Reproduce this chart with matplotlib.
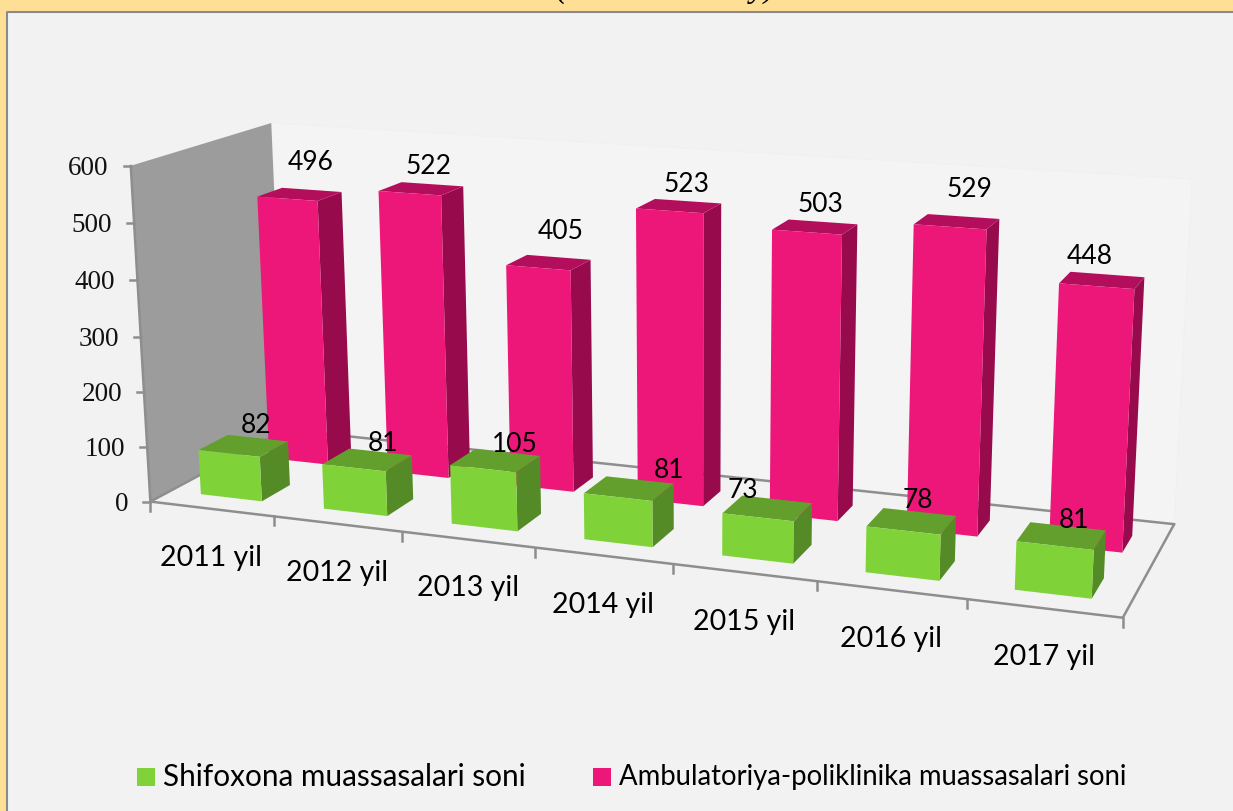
import numpy as np
import matplotlib
matplotlib.use("Agg")
import matplotlib.pyplot as plt
from matplotlib.patches import Polygon, Rectangle

years = ["2011 yil", "2012 yil", "2013 yil", "2014 yil", "2015 yil", "2016 yil", "2017 yil"]
hospitals = [82, 81, 105, 81, 73, 78, 81]
clinics = [496, 522, 405, 523, 503, 529, 448]
y_ticks = [0, 100, 200, 300, 400, 500, 600]
legend_names = ["Shifoxona muassasalari soni", "Ambulatoriya-poliklinika muassasalari soni"]

BG = "#F2F2F2"
GOLD = "#FFDF96"
GRID = "#8E8E8E"
GREEN = ("#7FD338", "#548B26", "#639F2C")
PINK = ("#ED1679", "#970B4D", "#B30E5C")

# the labels in the original were dragged around by hand, so each has a nudge in pixels
clinic_nudge = [(-1, -4.5), (-3.5, 5.5), (2, -2.5), (-1, 6.5), (-2, 5.5), (6, -4), (-18, 4.5)]
hospital_nudge = [(-4, 6), (0, 10), (5, 11), (26, 9), (-37, 10), (-5, 7), (3, 13)]

# corners of the chart box: (category, depth, value) -> pixel on the picture
box = [
    ((0, 0, 0), (150, 503)),
    ((7, 0, 0), (1123, 618)),
    ((7, 1, 0), (1174, 526)),
    ((0, 1, 0), (285, 430)),
    ((0, 0, 600), (131, 167)),
    ((0, 1, 600), (271, 124)),
    ((7, 1, 600), (1192, 180)),
]


def fit_camera(pairs):
    rows = []
    rhs = []
    for (x, d, v), (px, py) in pairs:
        rows.append([x, d, v, 1, 0, 0, 0, 0, -px * x, -px * d, -px * v])
        rhs.append(px)
        rows.append([0, 0, 0, 0, x, d, v, 1, -py * x, -py * d, -py * v])
        rhs.append(py)
    sol = np.linalg.lstsq(np.array(rows, float), np.array(rhs, float), rcond=None)[0]
    return np.append(sol, 1).reshape(3, 4)


cam = fit_camera(box)


def project(x, d, v):
    p = cam @ np.array([x, d, v, 1.0])
    return p[0] / p[2], p[1] / p[2]


def draw_bar(ax, center, value, d0, d1, colors, width=0.5):
    x0 = center - width / 2
    x1 = center + width / 2
    front = [project(x0, d0, 0), project(x1, d0, 0), project(x1, d0, value), project(x0, d0, value)]
    side = [project(x1, d0, 0), project(x1, d1, 0), project(x1, d1, value), project(x1, d0, value)]
    top = [project(x0, d0, value), project(x1, d0, value), project(x1, d1, value), project(x0, d1, value)]
    ax.add_patch(Polygon(side, closed=True, fc=colors[1], ec="none", zorder=3))
    ax.add_patch(Polygon(top, closed=True, fc=colors[2], ec="none", zorder=3))
    ax.add_patch(Polygon(front, closed=True, fc=colors[0], ec="none", zorder=3))


fig = plt.figure(figsize=(12.33, 8.12), dpi=100, facecolor=BG)
ax = fig.add_axes([0, 0, 1, 1])
ax.set_xlim(0, 1233)
ax.set_ylim(812, 0)
ax.axis("off")

# slide frame and what is left of the cut off title
ax.add_patch(Rectangle((0, 0), 1233, 12, fc=GOLD, ec="none"))
ax.add_patch(Rectangle((0, 0), 6, 812, fc=GOLD, ec="none"))
ax.plot([6.5, 6.5, 1233], [812, 12.5, 12.5], color="#8A8A8A", lw=1.5)
ax.text(556, -3, "(", ha="left", va="baseline", fontsize=24, style="italic", family="Liberation Serif")
ax.text(776, -3, "y)", ha="right", va="baseline", fontsize=24, style="italic", family="Liberation Serif")

# walls and floor
back = [project(0, 1, 0), project(7, 1, 0), project(7, 1, 600), project(0, 1, 600)]
ax.add_patch(Polygon(back, closed=True, fc="#F4F4F4", ec="#EDEDED", lw=0.8, ls=":"))
left = [project(0, 0, 0), project(0, 1, 0), project(0, 1, 600), project(0, 0, 600)]
ax.add_patch(Polygon(left, closed=True, fc="#9C9C9C", ec="none"))
floor = [project(0, 0, 0), project(7, 0, 0), project(7, 1, 0), project(0, 1, 0)]
ax.add_patch(Polygon(floor, closed=True, fc=BG, ec="none"))

# axis lines
for a, b in [((0, 0, 0), (7, 0, 0)), ((7, 0, 0), (7, 1, 0)), ((7, 1, 0), (0, 1, 0)),
             ((0, 1, 0), (0, 0, 0)), ((0, 0, 0), (0, 0, 600))]:
    pa, pb = project(*a), project(*b)
    ax.plot([pa[0], pb[0]], [pa[1], pb[1]], color=GRID, lw=1.8, solid_capstyle="round", zorder=2)

for v in y_ticks:
    px, py = project(0, 0, v)
    ax.plot([px - 7, px], [py, py], color=GRID, lw=1.8, zorder=2)
    ax.text(px - 22, py + 1.5, str(v), ha="right", va="center", fontsize=19.5,
            family="Liberation Serif", color="#111111")

for i in range(8):
    px, py = project(i, 0, 0)
    ax.plot([px, px], [py, py + 9], color=GRID, lw=1.8, zorder=2)

for i, name in enumerate(years):
    px, py = project(i + 0.5, 0, 0)
    ax.text(px, py + 48, name, ha="center", va="center", fontsize=20.5, family="Lato", color="black")

# bars, back row first
for i, v in enumerate(clinics):
    draw_bar(ax, i + 0.52, v, 0.63, 0.82, PINK)
for i, v in enumerate(hospitals):
    draw_bar(ax, i + 0.5, v, 0.14, 0.35, GREEN)

# value labels
for i, v in enumerate(clinics):
    px, py = project(i + 0.52, 0.82, v)
    ax.text(px + clinic_nudge[i][0], py - 24 + clinic_nudge[i][1], str(v), ha="center", va="center",
            fontsize=19, family="Lato", color="black", zorder=5)
for i, v in enumerate(hospitals):
    px, py = project(i + 0.52, 0.35, v)
    ax.text(px + hospital_nudge[i][0], py - 20 + hospital_nudge[i][1], str(v), ha="center", va="center",
            fontsize=19, family="Lato", color="black", zorder=5)

# legend
ax.add_patch(Rectangle((137, 769), 18, 18, fc=GREEN[0], ec="none"))
ax.add_patch(Rectangle((593, 769), 18, 18, fc=PINK[0], ec="none"))
ax.text(163, 777, legend_names[0], ha="left", va="center", fontsize=21.4, family="Lato", color="black")
ax.text(619, 777, legend_names[1], ha="left", va="center", fontsize=19.8, family="Lato", color="black")

fig.savefig("out.png", dpi=100, facecolor=BG)
